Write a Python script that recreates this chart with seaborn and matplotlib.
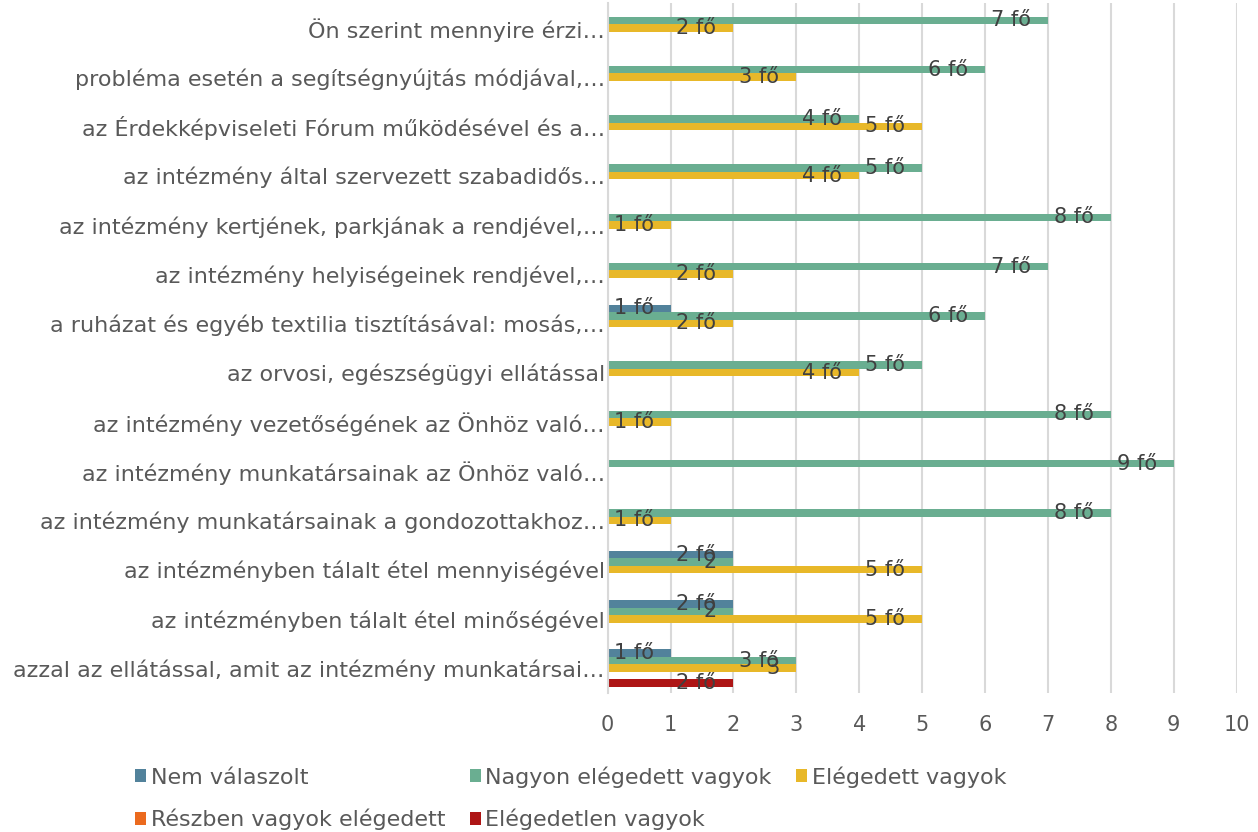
import pandas as pd
import matplotlib
matplotlib.use("Agg")
import matplotlib.pyplot as plt
import seaborn as sns

# categories, top to bottom
categories = [
    "Ön szerint mennyire érzi…",
    "probléma esetén a segítségnyújtás módjával,…",
    "az Érdekképviseleti Fórum működésével és a…",
    "az intézmény által szervezett szabadidős…",
    "az intézmény kertjének, parkjának a rendjével,…",
    "az intézmény helyiségeinek rendjével,…",
    "a ruházat és egyéb textilia tisztításával: mosás,…",
    "az orvosi, egészségügyi ellátással",
    "az intézmény vezetőségének az Önhöz való…",
    "az intézmény munkatársainak az Önhöz való…",
    "az intézmény munkatársainak a gondozottakhoz…",
    "az intézményben tálalt étel mennyiségével",
    "az intézményben tálalt étel minőségével",
    "azzal az ellátással, amit az intézmény munkatársai…",
]

series = [
    "Nem válaszolt",
    "Nagyon elégedett vagyok",
    "Elégedett vagyok",
    "Részben vagyok elégedett",
    "Elégedetlen vagyok",
]

nem_valaszolt = [0, 0, 0, 0, 0, 0, 1, 0, 0, 0, 0, 2, 2, 1]
nagyon_elegedett = [7, 6, 4, 5, 8, 7, 6, 5, 8, 9, 8, 2, 2, 3]
elegedett = [2, 3, 5, 4, 1, 2, 2, 4, 1, 0, 1, 5, 5, 3]
reszben = [0, 0, 0, 0, 0, 0, 0, 0, 0, 0, 0, 0, 0, 0]
elegedetlen = [0, 0, 0, 0, 0, 0, 0, 0, 0, 0, 0, 0, 0, 2]

# labels that show just the number (no "fő")
plain_labels = [(1, 11), (1, 12), (2, 13)]

colors = ["#52829B", "#6AAE91", "#E8B829", "#EB6A1E", "#AE1515"]
text_color = "#595959"

values = [nem_valaszolt, nagyon_elegedett, elegedett, reszben, elegedetlen]
rows = []
for s, vals in zip(series, values):
    for c, v in zip(categories, vals):
        rows.append({"kategoria": c, "sorozat": s, "fo": v})
df = pd.DataFrame(rows)

sns.set_style("white")
plt.rcParams["font.family"] = ["DejaVu Sans"]

fig, ax = plt.subplots(figsize=(12.58, 8.32), dpi=100)
fig.subplots_adjust(left=0.483, right=0.983, top=0.996, bottom=0.1675)

sns.barplot(
    data=df,
    x="fo",
    y="kategoria",
    hue="sorozat",
    order=categories,
    hue_order=series,
    palette=colors,
    orient="h",
    width=0.76,
    saturation=1,
    linewidth=0,
    errorbar=None,
    ax=ax,
)

# data labels
for si, container in enumerate(ax.containers):
    for ci, bar in enumerate(container.patches):
        w = bar.get_width()
        if w <= 0:
            continue
        txt = f"{int(w)}" if (si, ci) in plain_labels else f"{int(w)} fő"
        ax.text(w - 0.27, bar.get_y() + bar.get_height() / 2, txt,
                ha="right", va="center", fontsize=15, color="#404040")

ax.set_xlim(0, 10)
ax.set_xticks(range(0, 11))
ax.set_xlabel("")
ax.set_ylabel("")
ax.xaxis.grid(True, color="#D9D9D9", linewidth=1.5)
ax.set_axisbelow(True)
for side in ["top", "right", "bottom"]:
    ax.spines[side].set_visible(False)
ax.spines["left"].set_color("#D9D9D9")
ax.spines["left"].set_linewidth(1.5)
ax.tick_params(axis="y", length=0, pad=2, labelsize=16, labelcolor=text_color)
ax.tick_params(axis="x", length=0, pad=16, labelsize=15, labelcolor=text_color)

# legend, row-major order like Excel
handles, labels = ax.get_legend_handles_labels()
ax.get_legend().remove()
order = [0, 3, 1, 4, 2]
fig.legend(
    [handles[i] for i in order],
    [labels[i] for i in order],
    ncol=3,
    loc="upper left",
    bbox_to_anchor=(124 / 1258, 1 - 755 / 832),
    frameon=False,
    fontsize=16,
    labelcolor=text_color,
    handlelength=0.5,
    handleheight=0.5,
    handletextpad=0.2,
    columnspacing=1.1,
    labelspacing=0.95,
    borderpad=0,
)

fig.savefig("out.png", dpi=100)
